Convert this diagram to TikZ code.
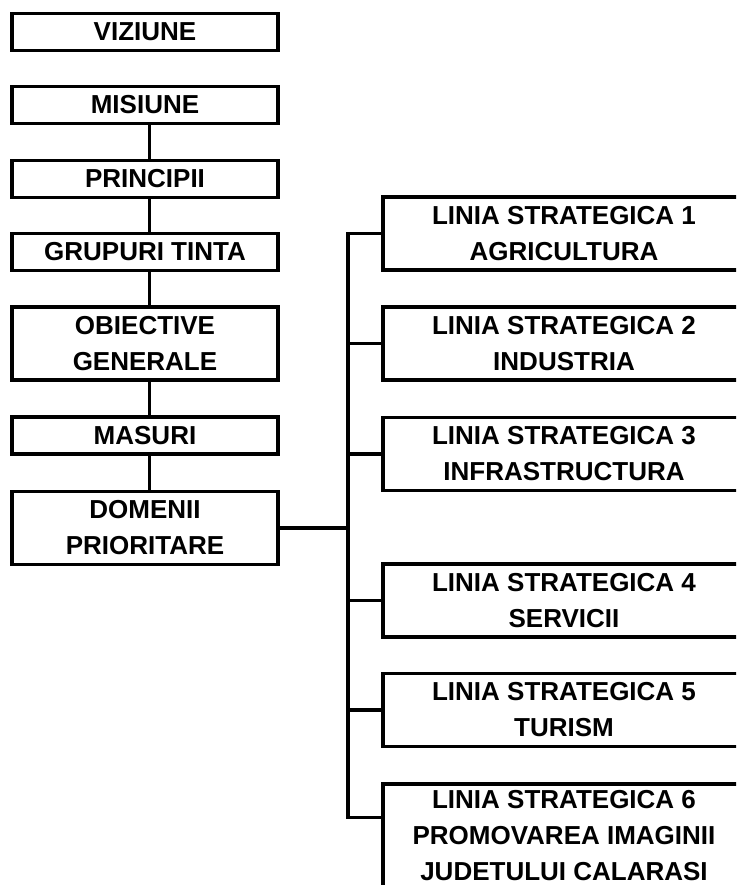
\documentclass[tikz,border=0pt]{standalone}
\usepackage{fontspec}
\setmainfont{Liberation Sans}
\usetikzlibrary{calc}

\begin{document}
\begin{tikzpicture}[x=1pt,y=-1pt]
\tikzstyle{every node}+=[inner sep=0pt]
\tikzstyle{box}=[draw=black, line width=3.5pt, align=center, font=\bfseries\fontsize{26}{36}\selectfont]
\tikzstyle{leftbox}=[box, minimum width=266pt]
\tikzstyle{rightbox}=[box, minimum width=362pt]
\tikzstyle{link}=[black, line width=3.5pt]
\useasboundingbox (0,0) rectangle (736,885);
\clip (0,0) rectangle (736,885);
% left column
\node [leftbox, minimum height=37pt] (viz) at (145,32) {VIZIUNE};
\node [leftbox, minimum height=37pt] (mis) at (145,105) {MISIUNE};
\node [leftbox, minimum height=37pt] (pri) at (145,179) {PRINCIPII};
\node [leftbox, minimum height=37pt] (grp) at (145,252) {GRUPURI TINTA};
\node [leftbox, minimum height=73pt] (obi) at (145,343.5) {OBIECTIVE\\GENERALE};
\node [leftbox, minimum height=37pt] (mas) at (145,435.5) {MASURI};
\node [leftbox, minimum height=73pt] (dom) at (145,528) {DOMENII\\PRIORITARE};
% right column
\node [rightbox, minimum height=73pt] (ls1) at (564,233.5) {LINIA STRATEGICA 1\\AGRICULTURA};
\node [rightbox, minimum height=73pt] (ls2) at (564,343.5) {LINIA STRATEGICA 2\\INDUSTRIA};
\node [rightbox, minimum height=73pt] (ls3) at (564,454) {LINIA STRATEGICA 3\\INFRASTRUCTURA};
\node [rightbox, minimum height=73pt] (ls4) at (564,600.5) {LINIA STRATEGICA 4\\SERVICII};
\node [rightbox, minimum height=73pt] (ls5) at (564,710) {LINIA STRATEGICA 5\\TURISM};
\node [rightbox, minimum height=104pt] (ls6) at (564,836) {LINIA STRATEGICA 6\\PROMOVAREA IMAGINII\\JUDETULUI CALARASI};
% connectors
\foreach \a/\b in {mis/pri,pri/grp,grp/obi,obi/mas,mas/dom}
  \draw [link] ([xshift=4.5pt]\a.south) -- ([xshift=4.5pt]\b.north);
\coordinate (bus) at (348,528);
\coordinate (ls6in) at ($(ls6.north west)+(0,35)$);
\draw [link] (dom.east) -- (bus);
\draw [link] (ls1.west) -| (bus |- ls6in) -- (ls6in);
\foreach \n in {ls2,ls3,ls4,ls5}
  \draw [link] (bus |- \n.west) -- (\n.west);
\end{tikzpicture}
\end{document}
